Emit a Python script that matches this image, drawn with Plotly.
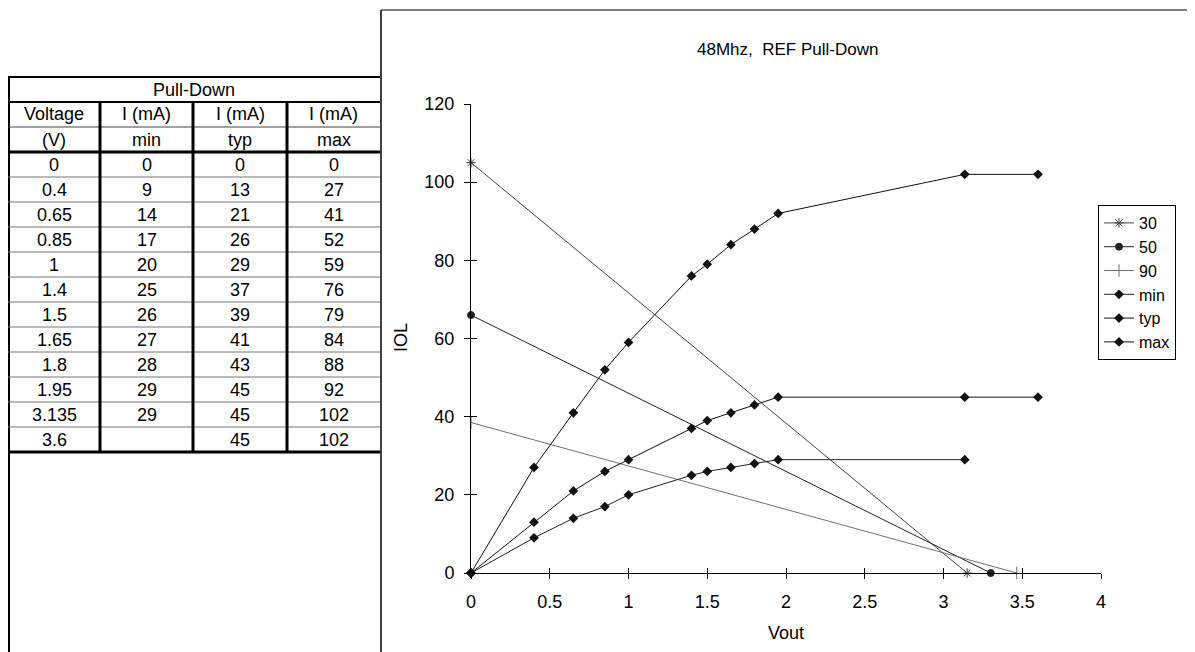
import plotly.graph_objects as go

# ---------------- data ----------------
voltage = [0, 0.4, 0.65, 0.85, 1, 1.4, 1.5, 1.65, 1.8, 1.95, 3.135, 3.6]
voltage_lbl = ["0", "0.4", "0.65", "0.85", "1", "1.4", "1.5", "1.65", "1.8", "1.95", "3.135", "3.6"]
i_min = [0, 9, 14, 17, 20, 25, 26, 27, 28, 29, 29, None]
i_typ = [0, 13, 21, 26, 29, 37, 39, 41, 43, 45, 45, 45]
i_max = [0, 27, 41, 52, 59, 76, 79, 84, 88, 92, 102, 102]

load_names = ["30", "50", "90"]
load_x = [[0, 3.15], [0, 3.3], [0, 3.465]]
load_y = [[105, 0], [66, 0], [38.5, 0]]

table_title = "Pull-Down"
header1 = ["Voltage", "I (mA)", "I (mA)", "I (mA)"]
header2 = ["(V)", "min", "typ", "max"]

chart_title = "48Mhz,  REF Pull-Down"
x_title = "Vout"
y_title = "IOL"

# ---------------- layout geometry (screen pixels) ----------------
W, H = 1195, 652
S = 8  # page body margin offset
PL, PR, PT, PB = 471, 1101, 104, 573


def fx(p):
    return (p - PL) / (PR - PL)


def fy(p):
    return (PB - p) / (PB - PT)


FONT = "Liberation Sans, Arial, sans-serif"
FS = 18

fig = go.Figure()

load_styles = [
    dict(color="#444444", symbol="asterisk-open", size=8, lw=1),
    dict(color="#222222", symbol="circle", size=7, lw=1),
    dict(color="#707070", symbol="line-ns-open", size=9, lw=1),
]
for name, xs, ys, st in zip(load_names, load_x, load_y, load_styles):
    fig.add_trace(go.Scatter(
        x=xs, y=ys, name=name, mode="lines+markers",
        line=dict(color=st["color"], width=st["lw"]),
        marker=dict(symbol=st["symbol"], size=st["size"], color=st["color"],
                    line=dict(color=st["color"], width=1)),
        cliponaxis=False,
    ))

for name, ys, col in [("min", i_min, "#222222"), ("typ", i_typ, "#111111"), ("max", i_max, "#111111")]:
    xs = [v for v, y in zip(voltage, ys) if y is not None]
    yv = [y for y in ys if y is not None]
    fig.add_trace(go.Scatter(
        x=xs, y=yv, name=name, mode="lines+markers",
        line=dict(color=col, width=1),
        marker=dict(symbol="diamond", size=7.5, color="#111111"),
        cliponaxis=False,
    ))

# dummy trace for overlay axes (crossing ticks)
fig.add_trace(go.Scatter(x=[None], y=[None], xaxis="x2", yaxis="y2",
                         showlegend=False, hoverinfo="skip"))

axis_common = dict(showgrid=False, zeroline=False)
fig.update_layout(
    width=W, height=H, autosize=False,
    margin=dict(l=PL - S, r=W - (PR - S), t=PT - S, b=H - (PB - S), pad=0),
    paper_bgcolor="white", plot_bgcolor="white",
    font=dict(family=FONT, size=FS, color="black"),
    showlegend=True,
    legend=dict(x=fx(1098), y=fy(205), xanchor="left", yanchor="top",
                bgcolor="white", bordercolor="black", borderwidth=1,
                font=dict(size=16), itemwidth=30, tracegroupgap=0),
    xaxis=dict(range=[0, 4], dtick=0.5, tick0=0, ticks="outside", ticklen=5,
               tickcolor="black", showline=True, linecolor="black", linewidth=1,
               ticklabelstandoff=7, **axis_common),
    yaxis=dict(range=[0, 120], dtick=20, tick0=0, ticks="outside", ticklen=6,
               tickcolor="black", showline=True, linecolor="black", linewidth=1,
               ticklabelstandoff=6, **axis_common),
    xaxis2=dict(range=[0, 4], dtick=0.5, tick0=0, ticks="inside", ticklen=5,
                tickcolor="black", showticklabels=False, showline=False,
                overlaying="x", anchor="y2", side="bottom", **axis_common),
    yaxis2=dict(range=[0, 120], dtick=20, tick0=0, ticks="inside", ticklen=6,
                tickcolor="black", showticklabels=False, showline=False,
                overlaying="y", anchor="x2", side="left", **axis_common),
)

shapes = []
annots = []


def hline(x0, x1, y, w=1, c="black"):
    shapes.append(dict(type="line", xref="paper", yref="paper",
                       x0=fx(x0), x1=fx(x1), y0=fy(y), y1=fy(y),
                       line=dict(color=c, width=w)))


def vline(x, y0, y1, w=1, c="black"):
    shapes.append(dict(type="line", xref="paper", yref="paper",
                       x0=fx(x), x1=fx(x), y0=fy(y0), y1=fy(y1),
                       line=dict(color=c, width=w)))


def text(s, x, y, size=FS, angle=0):
    annots.append(dict(text=s, xref="paper", yref="paper", x=fx(x), y=fy(y),
                       xanchor="center", yanchor="middle", showarrow=False,
                       textangle=angle, font=dict(family=FONT, size=size, color="black")))


# chart frame
hline(381, W + S, 10, 1)
vline(381, 10, H + S, 1.5)

# table geometry
cols = [8, 100, 193, 287, 380]
top = 77
rh = 25
n_rows = 3 + len(voltage)
bottom = top + rh * n_rows

vline(cols[0] + 1, top, H + S, 2)
hline(cols[0], cols[-1], top, 2)
hline(cols[0], cols[-1], top + rh, 2)
hline(cols[0], cols[-1], top + 2 * rh, 1, "#444444")
hline(cols[0], cols[-1], top + 3 * rh, 3)
for r in range(1, len(voltage)):
    hline(cols[0], cols[-1], top + (3 + r) * rh, 1, "#777777")
hline(cols[0], cols[-1], bottom, 3)
for cx in cols[1:-1]:
    vline(cx, top + rh, bottom, 3)

centers = [(cols[i] + cols[i + 1]) / 2 for i in range(4)]
text(table_title, (cols[0] + cols[-1]) / 2, top + rh / 2)
for i in range(4):
    text(header1[i], centers[i], top + rh * 1.5)
    text(header2[i], centers[i], top + rh * 2.5)
for r in range(len(voltage)):
    yc = top + rh * (3.5 + r)
    vals = [voltage_lbl[r],
            "" if i_min[r] is None else str(i_min[r]),
            str(i_typ[r]), str(i_max[r])]
    for i, v in enumerate(vals):
        if v:
            text(v, centers[i], yc)

# titles
text(chart_title, 787, 50, size=17)
text(x_title, 786, 633)
text(y_title, 401, 338, angle=-90)

fig.update_layout(shapes=shapes, annotations=annots)
fig.write_html("out.html")
